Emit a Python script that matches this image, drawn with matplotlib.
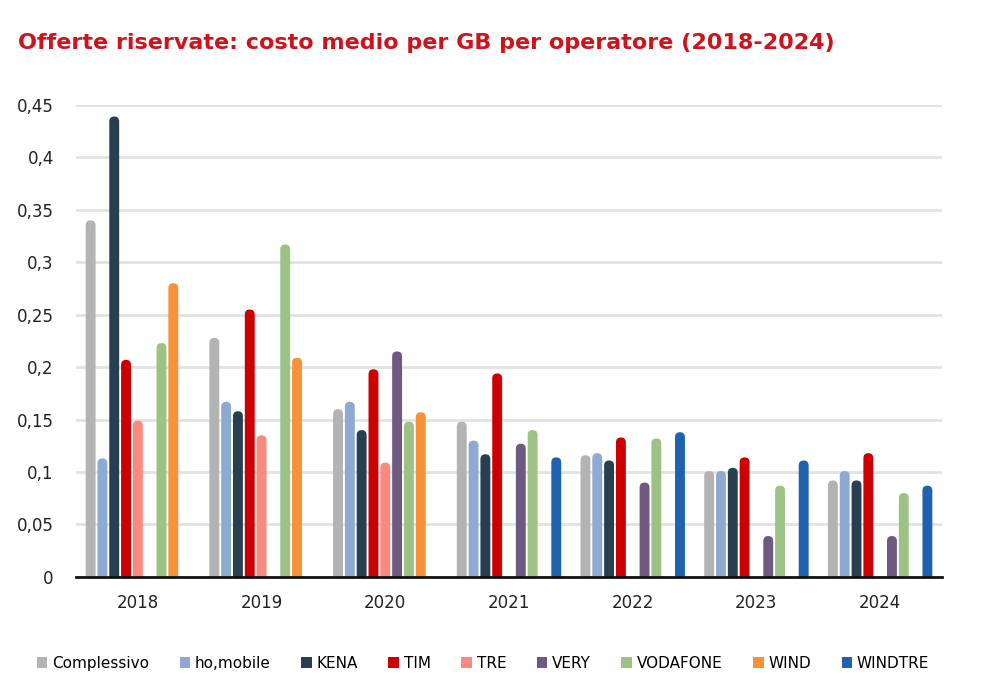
import matplotlib
matplotlib.use("Agg")
import matplotlib.pyplot as plt
from matplotlib.patches import FancyBboxPatch, Patch
import numpy as np

years = ["2018", "2019", "2020", "2021", "2022", "2023", "2024"]
operators = ["Complessivo", "ho,mobile", "KENA", "TIM", "TRE", "VERY", "VODAFONE", "WIND", "WINDTRE"]
colors = ["#B3B3B3", "#8FAAD2", "#283F4F", "#CC0000", "#F98A80", "#6E5A80", "#9DC384", "#F7923A", "#1F62AF"]

nan = np.nan
complessivo = [0.340, 0.228, 0.160, 0.148, 0.116, 0.101, 0.092]
homobile    = [0.113, 0.167, 0.167, 0.130, 0.118, 0.101, 0.101]
kena        = [0.439, 0.158, 0.140, 0.117, 0.111, 0.104, 0.092]
tim         = [0.207, 0.255, 0.198, 0.194, 0.133, 0.114, 0.118]
tre         = [0.149, 0.135, 0.109, nan, nan, nan, nan]
very        = [nan, nan, 0.215, 0.127, 0.090, 0.039, 0.039]
vodafone    = [0.223, 0.317, 0.148, 0.140, 0.132, 0.087, 0.080]
wind        = [0.280, 0.209, 0.157, nan, nan, nan, nan]
windtre     = [nan, nan, nan, 0.114, 0.138, 0.111, 0.087]
series = [complessivo, homobile, kena, tim, tre, very, vodafone, wind, windtre]

yticks = [0, 0.05, 0.1, 0.15, 0.2, 0.25, 0.3, 0.35, 0.4, 0.45]
ytick_labels = ["0", "0,05", "0,1", "0,15", "0,2", "0,25", "0,3", "0,35", "0,4", "0,45"]

fig = plt.figure(figsize=(10, 6.86), dpi=100)
ax = fig.add_axes([0.076, 0.159, 0.866, 0.688])

x = np.arange(len(years))
slot = 0.0955
bw = 0.08
ax.set_xlim(-0.5, len(years) - 0.5)
ax.set_ylim(0, 0.45)

fig.canvas.draw()
bbox = ax.get_window_extent()
px_x = bbox.width / (len(years))
px_y = bbox.height / 0.45
aspect = px_x / px_y

for i, (vals, col) in enumerate(zip(series, colors)):
    offs = (i - 4) * slot
    v = np.array(vals, dtype=float)
    bars = ax.bar(x + offs, np.nan_to_num(v), width=bw, color=col)
    for rect, val in zip(bars, v):
        rect.remove()
        if np.isnan(val):
            continue
        pad = 0.01
        p = FancyBboxPatch((rect.get_x(), -pad), rect.get_width(), rect.get_height() + pad,
                           boxstyle="round,pad=0,rounding_size=%f" % (bw / 2),
                           mutation_aspect=aspect, facecolor=col, edgecolor="none",
                           zorder=3, clip_on=True)
        ax.add_patch(p)

ax.set_yticks(yticks)
ax.set_yticklabels(ytick_labels)
ax.set_xticks(x)
ax.set_xticklabels(years)
ax.tick_params(axis="y", length=0, pad=16, labelsize=12, labelcolor="#222222")
ax.tick_params(axis="x", length=0, pad=12, labelsize=12, labelcolor="#222222")
ax.yaxis.grid(True, color="#E2E2E2", linewidth=2)
ax.set_axisbelow(True)
for s in ["left", "right", "top"]:
    ax.spines[s].set_visible(False)
ax.spines["bottom"].set_linewidth(2)
ax.spines["bottom"].set_color("#111111")
ax.spines["bottom"].set_zorder(5)

fig.text(0.018, 0.938, "Offerte riservate: costo medio per GB per operatore (2018-2024)",
         color="#D0121B", fontsize=16, fontweight="bold", va="center", ha="left")

handles = [Patch(facecolor=c, edgecolor="none") for c in colors]
fig.legend(handles, operators, loc="center", bbox_to_anchor=(0.483, 0.033), ncol=9,
           frameon=False, fontsize=11, handlelength=0.7, handleheight=0.7,
           handletextpad=0.3, columnspacing=2.0)

fig.savefig("out.png", dpi=100)
